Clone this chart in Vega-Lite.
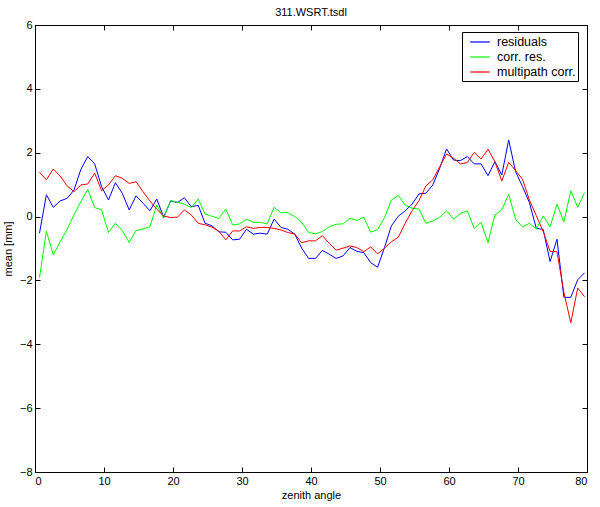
{
"$schema": "https://vega.github.io/schema/vega-lite/v6.json",
"width": 552, "height": 447,
"autosize": {"type": "none"},
"padding": {"left": 35, "top": 25, "right": 13, "bottom": 35},
"background": "white",
"config": {
  "font": "Liberation Sans",
  "view": {"stroke": "black", "strokeWidth": 1},
  "axis": {"grid": false, "domainColor": "black", "tickColor": "black", "labelColor": "black", "titleColor": "black", "labelFontSize": 11, "titleFontSize": 11, "titleFontWeight": "normal", "labelFont": "Liberation Sans", "titleFont": "Liberation Sans", "tickSize": -5, "tickWidth": 1},
  "title": {"fontSize": 11, "fontWeight": "normal", "font": "Liberation Sans", "color": "black"}
},
"title": {"text": "311.WSRT.tsdl", "offset": 1},
"data": {"values": [
{"a":0.65,"r":-0.52,"c":-1.91,"m":1.39},
{"a":1.65,"r":0.68,"c":-0.46,"m":1.15},
{"a":2.65,"r":0.29,"c":-1.20,"m":1.49},
{"a":3.65,"r":0.49,"c":-0.79,"m":1.27},
{"a":4.65,"r":0.57,"c":-0.40,"m":0.96},
{"a":5.65,"r":0.83,"c":0.05,"m":0.78},
{"a":6.65,"r":1.48,"c":0.47,"m":0.99},
{"a":7.65,"r":1.88,"c":0.85,"m":1.02},
{"a":8.65,"r":1.65,"c":0.28,"m":1.36},
{"a":9.65,"r":0.94,"c":0.21,"m":0.81},
{"a":10.65,"r":0.52,"c":-0.50,"m":0.99},
{"a":11.65,"r":1.06,"c":-0.21,"m":1.28},
{"a":12.65,"r":0.73,"c":-0.44,"m":1.20},
{"a":13.65,"r":0.21,"c":-0.81,"m":1.04},
{"a":14.65,"r":0.65,"c":-0.44,"m":1.09},
{"a":15.65,"r":0.42,"c":-0.39,"m":0.78},
{"a":16.65,"r":0.18,"c":-0.32,"m":0.49},
{"a":17.65,"r":0.55,"c":0.36,"m":0.23},
{"a":18.65,"r":-0.02,"c":-0.05,"m":0.02},
{"a":19.65,"r":0.49,"c":0.50,"m":-0.03},
{"a":20.65,"r":0.44,"c":0.45,"m":-0.02},
{"a":21.65,"r":0.59,"c":0.39,"m":0.21},
{"a":22.65,"r":0.31,"c":0.28,"m":0.05},
{"a":23.65,"r":0.35,"c":0.55,"m":-0.21},
{"a":24.65,"r":-0.21,"c":0.08,"m":-0.26},
{"a":25.65,"r":-0.29,"c":0.01,"m":-0.33},
{"a":26.65,"r":-0.48,"c":-0.06,"m":-0.46},
{"a":27.65,"r":-0.49,"c":0.24,"m":-0.73},
{"a":28.65,"r":-0.73,"c":-0.26,"m":-0.45},
{"a":29.65,"r":-0.71,"c":-0.23,"m":-0.45},
{"a":30.65,"r":-0.40,"c":-0.08,"m":-0.32},
{"a":31.65,"r":-0.55,"c":-0.18,"m":-0.37},
{"a":32.65,"r":-0.52,"c":-0.18,"m":-0.34},
{"a":33.65,"r":-0.55,"c":-0.23,"m":-0.34},
{"a":34.65,"r":-0.08,"c":0.29,"m":-0.37},
{"a":35.65,"r":-0.34,"c":0.12,"m":-0.42},
{"a":36.65,"r":-0.40,"c":0.12,"m":-0.50},
{"a":37.65,"r":-0.55,"c":0.00,"m":-0.55},
{"a":38.65,"r":-0.99,"c":-0.18,"m":-0.82},
{"a":39.65,"r":-1.31,"c":-0.50,"m":-0.76},
{"a":40.65,"r":-1.31,"c":-0.54,"m":-0.76},
{"a":41.65,"r":-1.06,"c":-0.47,"m":-0.60},
{"a":42.65,"r":-1.18,"c":-0.32,"m":-0.84},
{"a":43.65,"r":-1.31,"c":-0.24,"m":-1.05},
{"a":44.65,"r":-1.23,"c":-0.23,"m":-0.99},
{"a":45.65,"r":-0.97,"c":-0.05,"m":-0.92},
{"a":46.65,"r":-1.09,"c":-0.12,"m":-0.97},
{"a":47.65,"r":-1.13,"c":-0.02,"m":-1.10},
{"a":48.65,"r":-1.44,"c":-0.49,"m":-0.95},
{"a":49.65,"r":-1.59,"c":-0.41,"m":-1.17},
{"a":50.65,"r":-0.97,"c":-0.04,"m":-0.99},
{"a":51.65,"r":-0.29,"c":0.52,"m":-0.79},
{"a":52.65,"r":0.01,"c":0.66,"m":-0.65},
{"a":53.65,"r":0.18,"c":0.36,"m":-0.21},
{"a":54.65,"r":0.39,"c":0.26,"m":0.18},
{"a":55.65,"r":0.71,"c":0.24,"m":0.50},
{"a":56.65,"r":0.73,"c":-0.21,"m":0.96},
{"a":57.65,"r":0.99,"c":-0.14,"m":1.15},
{"a":58.65,"r":1.51,"c":-0.02,"m":1.56},
{"a":59.65,"r":2.12,"c":0.18,"m":1.96},
{"a":60.65,"r":1.77,"c":-0.08,"m":1.83},
{"a":61.65,"r":1.75,"c":0.10,"m":1.65},
{"a":62.65,"r":1.88,"c":0.18,"m":1.69},
{"a":63.65,"r":1.65,"c":-0.37,"m":2.01},
{"a":64.65,"r":1.65,"c":-0.18,"m":1.80},
{"a":65.65,"r":1.28,"c":-0.82,"m":2.11},
{"a":66.65,"r":1.72,"c":0.05,"m":1.72},
{"a":67.65,"r":1.30,"c":0.21,"m":1.11},
{"a":68.65,"r":2.40,"c":0.70,"m":1.70},
{"a":69.65,"r":1.41,"c":-0.08,"m":1.44},
{"a":70.65,"r":0.94,"c":-0.33,"m":1.17},
{"a":71.65,"r":0.44,"c":-0.21,"m":0.52},
{"a":72.65,"r":-0.37,"c":-0.39,"m":0.03},
{"a":73.65,"r":-0.40,"c":0.02,"m":-0.47},
{"a":74.65,"r":-1.41,"c":-0.32,"m":-1.09},
{"a":75.65,"r":-0.71,"c":0.39,"m":-1.10},
{"a":76.65,"r":-2.53,"c":-0.17,"m":-2.37},
{"a":77.65,"r":-2.53,"c":0.81,"m":-3.33},
{"a":78.65,"r":-1.98,"c":0.29,"m":-2.24},
{"a":79.65,"r":-1.76,"c":0.75,"m":-2.51}
]},
"transform": [{"fold": ["r", "c", "m"], "as": ["s", "v"]}],
"layer": [
  {
    "mark": {"type": "line", "strokeWidth": 1, "interpolate": "linear"},
    "encoding": {
      "x": {"field": "a", "type": "quantitative", "scale": {"domain": [0, 80], "nice": false, "zero": false}, "axis": {"orient": "bottom", "values": [0,10,20,30,40,50,60,70,80], "title": "zenith angle", "labelPadding": 8, "titlePadding": 3}},
      "y": {"field": "v", "type": "quantitative", "scale": {"domain": [-8, 6], "nice": false, "zero": false}, "axis": {"orient": "left", "values": [-8,-6,-4,-2,0,2,4,6], "title": "mean [mm]", "labelPadding": 8, "titlePadding": 6}},
      "color": {"field": "s", "type": "nominal", "sort": ["r", "c", "m"], "scale": {"domain": ["r", "c", "m"], "range": ["#0000ff", "#00ff00", "#ff0000"]},
        "legend": {"title": null, "orient": "none", "legendX": 427, "legendY": 7, "symbolType": "M-1.4,0L1.4,0", "symbolSize": 196, "symbolStrokeWidth": 1.2, "labelFontSize": 12.5, "labelFont": "Liberation Sans", "labelColor": "black", "rowPadding": 0, "padding": 2, "symbolOffset": 8, "labelOffset": 9, "strokeColor": "black", "fillColor": "white", "cornerRadius": 0,
          "labelExpr": "datum.label == 'r' ? 'residuals' : datum.label == 'c' ? 'corr. res.' : 'multipath corr.'"}}
    }
  },
  {
    "mark": {"type": "line", "opacity": 0},
    "encoding": {
      "x": {"field": "a", "type": "quantitative", "scale": {"domain": [0, 80], "nice": false, "zero": false}, "axis": {"orient": "top", "values": [0,10,20,30,40,50,60,70,80], "labels": false, "title": null}},
      "y": {"field": "v", "type": "quantitative", "scale": {"domain": [-8, 6], "nice": false, "zero": false}, "axis": {"orient": "right", "values": [-8,-6,-4,-2,0,2,4,6], "labels": false, "title": null}},
      "detail": {"field": "s"}
    }
  }
],
"resolve": {"scale": {"x": "independent", "y": "independent"}}
}
